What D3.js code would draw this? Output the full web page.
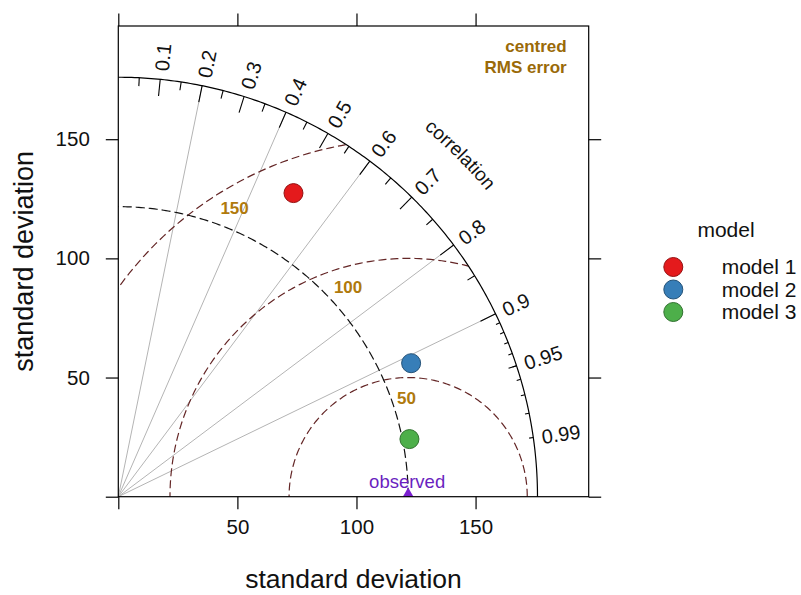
<!DOCTYPE html>
<html>
<head>
<meta charset="utf-8">
<script src="https://cdn.jsdelivr.net/npm/d3@7"></script>
<style>
  html, body { margin: 0; padding: 0; background: #fff; }
  svg text { font-family: "Liberation Sans", Arial, sans-serif; }
</style>
</head>
<body>
<svg id="chart" width="801" height="595"></svg>
<script>
// Taylor diagram: three models compared against an observed series
const models = ["model 1", "model 2", "model 3"];
const modelSD = [147.1, 135.1, 124.6];
const modelCorr = [0.50, 0.91, 0.981];
const modelColors = ["#E41A1C", "#377EB8", "#4DAF4A"];
const obsSD = 121.7;
const maxSD = 176;
const rmsLevels = [50, 100, 150];
const corrLabels = [0.1, 0.2, 0.3, 0.4, 0.5, 0.6, 0.7, 0.8, 0.9, 0.95, 0.99];
const corrGrid = [0.2, 0.4, 0.6, 0.8, 0.9];
const axisTicks = [0, 50, 100, 150];
const axisLabels = ["", "50", "100", "150"];

const svg = d3.select("#chart");
const L = 118.3, R = 588.7, T = 26, B = 496.7;
const axMax = 197.5;
const x = d3.scaleLinear().domain([0, axMax]).range([L, R]);
const y = d3.scaleLinear().domain([0, axMax]).range([B, T]);
const k = (R - L) / axMax; // px per unit

const polar = (r, c) => {
  const a = Math.acos(c);
  return [x(r * Math.cos(a)), y(r * Math.sin(a))];
};

const defs = svg.append("defs");
defs.append("clipPath").attr("id", "panel")
  .append("rect").attr("x", L).attr("y", T).attr("width", R - L).attr("height", B - T);
// quarter-disc region inside the outer correlation arc
defs.append("clipPath").attr("id", "sector")
  .append("path")
  .attr("d", `M${x(0)},${y(0)} L${x(maxSD)},${y(0)} A${maxSD * k},${maxSD * k} 0 0 0 ${x(0)},${y(maxSD)} Z`);

const g = svg.append("g");

// correlation grid rays
g.selectAll("line.grid").data(corrGrid).join("line")
  .attr("x1", x(0)).attr("y1", y(0))
  .attr("x2", d => polar(maxSD, d)[0]).attr("y2", d => polar(maxSD, d)[1])
  .attr("stroke", "#b4b4b4").attr("stroke-width", 1);

// centred RMS error contours around the observed point
const arcPts = (cx, r, a0, a1) => d3.range(0, 201).map(i => {
  const a = a0 + (a1 - a0) * i / 200;
  return [x(cx + r * Math.cos(a)), y(r * Math.sin(a))];
});
const lineGen = d3.line();
g.append("g").attr("clip-path", "url(#sector)")
  .selectAll("path").data(rmsLevels).join("path")
  .attr("d", r => lineGen(arcPts(obsSD, r, 0, Math.PI)))
  .attr("fill", "none").attr("stroke", "#642626").attr("stroke-width", 1.2)
  .attr("stroke-dasharray", "8,4");

// reference standard deviation arc
g.append("path")
  .attr("d", lineGen(arcPts(0, obsSD, 0, Math.PI / 2)))
  .attr("fill", "none").attr("stroke", "#111").attr("stroke-width", 1.2)
  .attr("stroke-dasharray", "9,4");

// outer correlation arc
g.append("path")
  .attr("d", lineGen(arcPts(0, maxSD, 0, Math.PI / 2)))
  .attr("fill", "none").attr("stroke", "#000").attr("stroke-width", 1.2);

// ticks on the outer arc
const tickSets = [
  { v: d3.range(1, 10).map(i => i / 10), len: 0.04 },
  { v: d3.range(0, 10).map(i => 0.05 + i / 10), len: 0.02 },
  { v: d3.range(1, 10).map(i => 0.9 + i / 100), len: 0.01 }
];
tickSets.forEach(s => {
  g.append("g").selectAll("line").data(s.v).join("line")
    .attr("x1", d => polar(maxSD, d)[0]).attr("y1", d => polar(maxSD, d)[1])
    .attr("x2", d => polar(maxSD * (1 - s.len), d)[0]).attr("y2", d => polar(maxSD * (1 - s.len), d)[1])
    .attr("stroke", "#000").attr("stroke-width", 1.1);
});

// correlation labels along the arc
g.selectAll("text.corr").data(corrLabels).join("text")
  .attr("transform", d => {
    const p = polar(maxSD * 1.02, d);
    return `translate(${p[0]},${p[1]}) rotate(${-Math.acos(d) * 180 / Math.PI})`;
  })
  .attr("dy", "0.38em")
  .attr("font-size", 20).attr("fill", "#111")
  .text(d => String(d));

// curved "correlation" title
const Rc = 201 * k, a1 = 57 * Math.PI / 180, a2 = 33 * Math.PI / 180;
defs.append("path").attr("id", "corrPath")
  .attr("d", `M${x(0) + Rc * Math.cos(a1)},${y(0) - Rc * Math.sin(a1)} A${Rc},${Rc} 0 0 1 ${x(0) + Rc * Math.cos(a2)},${y(0) - Rc * Math.sin(a2)}`);
svg.append("text").attr("font-size", 19).attr("fill", "#111")
  .append("textPath").attr("href", "#corrPath")
  .attr("startOffset", "50%").attr("text-anchor", "middle")
  .text("correlation");

// RMS contour labels
const labelAngle = r => (76 + 0.3 * r) * Math.PI / 180;
g.selectAll("text.rms").data(rmsLevels).join("text")
  .attr("x", r => x(obsSD + (r - 8.5) * Math.cos(labelAngle(r))))
  .attr("y", r => y((r - 8.5) * Math.sin(labelAngle(r))))
  .attr("text-anchor", "middle").attr("dy", "0.36em")
  .attr("font-size", 17).attr("font-weight", "bold").attr("fill", "#B07A0C")
  .text(r => r);

svg.append("text").attr("x", 566.7).attr("y", 52).attr("text-anchor", "end")
  .attr("font-size", 17).attr("font-weight", "bold").attr("fill", "#9A6A08").text("centred");
svg.append("text").attr("x", 566.7).attr("y", 73).attr("text-anchor", "end")
  .attr("font-size", 17).attr("font-weight", "bold").attr("fill", "#9A6A08").text("RMS error");

// observed marker and label
const obsG = svg.append("g").attr("clip-path", "url(#panel)");
obsG.append("path")
  .attr("d", d3.symbol(d3.symbolTriangle, 110)())
  .attr("transform", `translate(${x(obsSD)},${y(0)})`)
  .attr("fill", "#7B1FD0");
svg.append("text").attr("x", x(obsSD) - 1).attr("y", 488)
  .attr("text-anchor", "middle").attr("font-size", 18.5).attr("fill", "#6A1FC0")
  .text("observed");

// model points
g.selectAll("circle.model").data(models).join("circle")
  .attr("cx", (d, i) => x(modelSD[i] * modelCorr[i]))
  .attr("cy", (d, i) => y(modelSD[i] * Math.sqrt(1 - modelCorr[i] * modelCorr[i])))
  .attr("r", 9.5)
  .attr("fill", (d, i) => modelColors[i])
  .attr("stroke", (d, i) => d3.color(modelColors[i]).darker(1.2))
  .attr("stroke-width", 1);

// panel frame and axes
svg.append("rect").attr("x", L).attr("y", T).attr("width", R - L).attr("height", B - T)
  .attr("fill", "none").attr("stroke", "#000").attr("stroke-width", 1.2);

const tl = 12.5;
svg.append("g").attr("transform", `translate(0,${B})`)
  .call(d3.axisBottom(x).tickValues(axisTicks).tickSize(tl).tickPadding(10).tickFormat((d, i) => axisLabels[i]))
  .call(a => a.select(".domain").remove());
svg.append("g").attr("transform", `translate(0,${T})`)
  .call(d3.axisTop(x).tickValues(axisTicks).tickSize(tl).tickFormat(""))
  .call(a => a.select(".domain").remove());
svg.append("g").attr("transform", `translate(${L},0)`)
  .call(d3.axisLeft(y).tickValues(axisTicks).tickSize(tl).tickPadding(16).tickFormat((d, i) => axisLabels[i]))
  .call(a => a.select(".domain").remove());
svg.append("g").attr("transform", `translate(${R},0)`)
  .call(d3.axisRight(y).tickValues(axisTicks).tickSize(tl).tickFormat(""))
  .call(a => a.select(".domain").remove());
svg.selectAll(".tick line").attr("stroke", "#000").attr("stroke-width", 1.2);
svg.selectAll(".tick text").attr("font-size", 20.5).attr("fill", "#111")
  .attr("font-family", "Liberation Sans, Arial, sans-serif");

// axis titles
svg.append("text").attr("x", (L + R) / 2).attr("y", 588).attr("text-anchor", "middle")
  .attr("font-size", 26.5).attr("fill", "#111").text("standard deviation");
svg.append("text").attr("transform", `translate(33,${(T + B) / 2}) rotate(-90)`)
  .attr("text-anchor", "middle").attr("font-size", 27).attr("fill", "#111").text("standard deviation");

// legend
const lg = svg.append("g");
lg.append("text").attr("x", 726).attr("y", 237).attr("text-anchor", "middle")
  .attr("font-size", 21).attr("fill", "#111").text("model");
const ly = [267, 289.5, 312];
lg.selectAll("circle").data(models).join("circle")
  .attr("cx", 673.3).attr("cy", (d, i) => ly[i]).attr("r", 9.5)
  .attr("fill", (d, i) => modelColors[i])
  .attr("stroke", (d, i) => d3.color(modelColors[i]).darker(1.2));
lg.selectAll("text.item").data(models).join("text")
  .attr("x", 721.7).attr("y", (d, i) => ly[i]).attr("dy", "0.35em")
  .attr("font-size", 21).attr("fill", "#111").text(d => d);
</script>
</body>
</html>
